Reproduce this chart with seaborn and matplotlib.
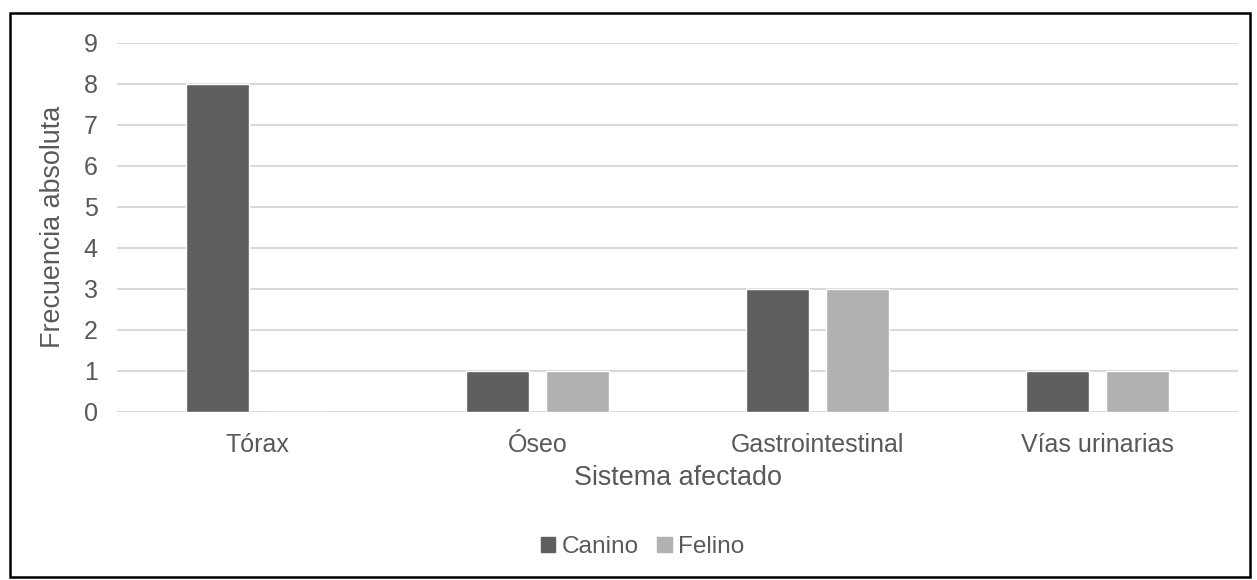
import matplotlib
matplotlib.use("Agg")
import matplotlib.pyplot as plt
import matplotlib.patches as mpatches
import pandas as pd
import seaborn as sns

sistemas = ["Tórax", "Óseo", "Gastrointestinal", "Vías urinarias"]
canino = [8, 1, 3, 1]
felino = [0, 1, 3, 1]

data = pd.DataFrame({
    "Sistema afectado": sistemas * 2,
    "Frecuencia absoluta": canino + felino,
    "Especie": ["Canino"] * len(sistemas) + ["Felino"] * len(sistemas),
})

sns.set_style("white")
plt.rcParams["font.family"] = ["Liberation Sans", "DejaVu Sans"]
txt = "#595959"

fig = plt.figure(figsize=(12.57, 5.8), dpi=100)
ax = fig.add_axes([0.0931, 0.29, 0.8918, 0.636])

sns.barplot(data=data, x="Sistema afectado", y="Frecuencia absoluta",
            hue="Especie", palette=["#5f5f5f", "#b1b1b1"],
            width=0.571, gap=0.2125, ax=ax, zorder=3, legend=False)

ax.set_ylim(0, 9)
ax.set_yticks(range(0, 10))
ax.yaxis.grid(True, color="#d9d9d9", linewidth=1.5, zorder=0)
ax.set_axisbelow(True)
for s in ax.spines.values():
    s.set_visible(False)
ax.tick_params(axis="both", length=0, labelsize=18, labelcolor=txt)
ax.tick_params(axis="y", pad=14)
ax.tick_params(axis="x", pad=15)
ax.set_xlabel("Sistema afectado", fontsize=19.4, color=txt, labelpad=6)
ax.set_ylabel("Frecuencia absoluta", fontsize=19.4, color=txt, labelpad=13)

handles = [mpatches.Patch(color="#5f5f5f"), mpatches.Patch(color="#b1b1b1")]
fig.legend(handles, ["Canino", "Felino"], loc="center",
           bbox_to_anchor=(0.511, 0.057), ncol=2, frameon=False,
           fontsize=17.6, labelcolor=txt, handlelength=0.6, handleheight=0.6,
           handletextpad=0.25, columnspacing=0.75)

fig.patches.append(mpatches.Rectangle((0.008, 0.005), 0.9865, 0.972,
                                      transform=fig.transFigure, fill=False,
                                      edgecolor="black", linewidth=1.8))

fig.savefig("out.png", dpi=100)
